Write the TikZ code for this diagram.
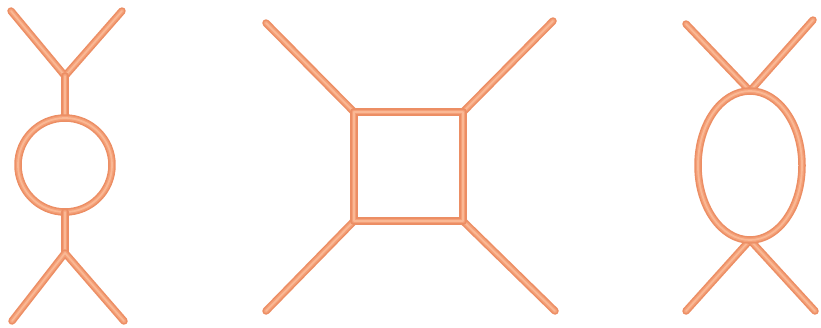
\documentclass[tikz,border=0pt]{standalone}
\usetikzlibrary{calc}
\definecolor{tubeedge}{RGB}{236,142,100}
\definecolor{tubemid}{RGB}{244,160,120}
\definecolor{tubehi}{RGB}{250,184,148}
\definecolor{labelnavy}{RGB}{20,30,90}
\begin{document}
\begin{tikzpicture}[x=1pt,y=-1pt,
  tube/.style={line width=7.5pt, draw=tubeedge, line cap=round, line join=round,
    postaction={draw=tubemid, line width=4.5pt},
    postaction={draw=tubehi, line width=1.8pt}},
  lbl/.style={text=labelnavy, font=\small}]
\useasboundingbox (0,0) rectangle (821,327);
% ---- left diagram ----
\coordinate (LtA) at (11,11);
\coordinate (LtB) at (122,11);
\coordinate (LtJ) at (65,76);
\coordinate (LcTop) at (65,118);
\coordinate (LcBot) at (65,212);
\coordinate (LbJ) at (65,253);
\coordinate (LbA) at (12,321);
\coordinate (LbB) at (124,321);
\draw[tube] (LtA) -- (LtJ) -- (LtB);
\draw[tube] (LtJ) -- (LcTop);
\draw[tube] (65,165) circle (47);
\draw[tube] (LcBot) -- (LbJ);
\draw[tube] (LbA) -- (LbJ) -- (LbB);
% ---- middle diagram ----
\coordinate (MA) at (354,112);
\coordinate (MB) at (463,112);
\coordinate (MC) at (463,221);
\coordinate (MD) at (354,221);
\coordinate (MeA) at (266,23);
\coordinate (MeB) at (553,21);
\coordinate (MeC) at (555,311);
\coordinate (MeD) at (266,311);
\draw[tube] (MeA) -- (MA);
\draw[tube] (MeB) -- (MB);
\draw[tube] (MeC) -- (MC);
\draw[tube] (MeD) -- (MD);
\draw[tube, line cap=butt] (MA) -- (MB) -- (MC) -- (MD) -- cycle;
% ---- right diagram ----
\coordinate (RT) at (750,91);
\coordinate (RB) at (750,240);
\coordinate (RtA) at (686,24);
\coordinate (RtB) at (813,20);
\coordinate (RbA) at (686,311);
\coordinate (RbB) at (815,311);
\draw[tube] (RtA) -- (RT);
\draw[tube] (RtB) -- (RT);
\draw[tube] (RbA) -- (RB);
\draw[tube] (RbB) -- (RB);
\draw[tube] (750,165.5) ellipse (52 and 74.5);
% ---- clipped caption ----
\node[lbl] (cap) at (411,335) {(b)};
\end{tikzpicture}
\end{document}
